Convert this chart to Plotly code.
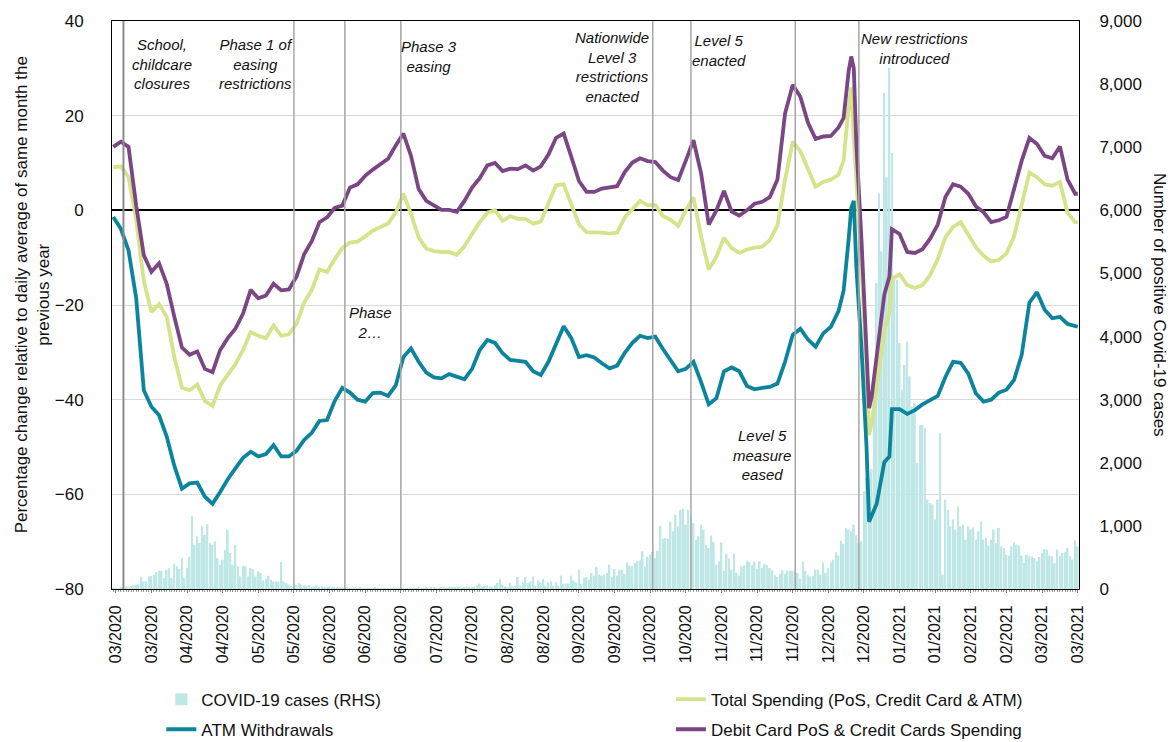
import pandas as pd
import plotly.graph_objects as go

# ---------------------------------------------------------------------------
# Data
# ---------------------------------------------------------------------------
start_date = pd.Timestamp("2020-03-08")

# Daily positive Covid-19 cases (right axis), one value per day from 8 March 2020
covid_cases = [
    5, 8, 12, 20, 25, 40, 30, 45, 60, 70, 75,
    190, 120, 120, 200, 205, 225, 265, 295, 290, 175,
    300, 330, 175, 400, 360, 317, 490, 175, 333, 517,
    1160, 700, 835, 730, 993, 860, 1030, 730, 700, 755,
    490, 385, 465, 620, 940, 570, 385, 700, 360, 200,
    370, 360, 200, 333, 317, 200, 280, 253, 137, 158,
    211, 148, 120, 120, 120, 428, 120, 95, 70,
    50,
    40, 65, 95, 70, 55, 45, 60, 35, 40, 55, 30, 45, 25, 35, 40, 25, 20, 30, 20,
    20, 15, 18, 12, 15, 20, 10, 18, 12, 8, 14, 10, 12, 20, 15, 8, 10, 14, 8, 10,
    12, 9, 15, 11, 14,
    10, 12, 15, 8, 12, 16, 10, 11, 16, 12, 18, 20, 10, 12, 20, 25, 15, 20, 25, 20,
    30, 25, 15, 35, 40, 25, 20, 30, 60, 85, 40,
    45, 55, 40, 35, 60, 95,
    160, 70, 42, 32, 95, 42, 53, 190, 53, 105, 185, 95, 120, 200, 53, 132, 105, 160,
    53, 105, 120, 53, 105, 53,
    211, 85, 85, 85, 211, 132, 105, 306, 85, 174,
    190, 148, 253, 211, 348, 227, 211, 227, 253, 385,
    185, 317, 211, 306, 306, 238, 422, 370, 360, 412,
    438, 454, 597, 360, 507,
    540,
    591, 491, 607, 1003, 797, 808, 797, 1067, 913, 1177, 993, 1256, 1272, 1019, 1256,
    1150,
    1045, 781, 834, 1019, 940, 702, 649, 845, 744, 385,
    438, 739, 290, 560, 486, 306, 560, 253, 211, 360,
    375, 449, 428, 375, 438, 322, 438, 333, 401, 375,
    333, 296, 227, 190, 243, 296, 243, 290, 290, 290,
    270,
    253, 164, 438, 290, 227, 200, 211, 306, 306, 227,
    422, 253, 333, 422, 465, 581, 528, 766, 718, 966,
    940, 913, 1019,
    850, 728, 755, 1547, 1765, 1750, 1900, 3300,
    4850, 6270, 5350, 7860, 6520, 8260, 6910, 4950, 4900,
    3900, 3160, 3550, 3920, 3370, 2890, 2945, 2000, 2600, 2600,
    2550, 1415, 1365, 1340, 1100, 1415, 2470, 227, 1415, 1257,
    993, 1100, 940, 1310, 993, 1019, 781, 993, 940, 977,
    781, 913, 1072, 781, 808, 687, 781, 940, 728, 966,
    676, 650, 544, 528, 676, 740, 702, 690, 528, 412,
    544, 517, 517, 491, 438, 507, 570, 634, 623, 528,
    517, 412, 623, 528, 570, 581, 650, 517, 465, 771, 676,
]

# Spending series (left axis), days counted from 8 March 2020
line_day = [
    0, 3, 6, 9, 12, 15, 18, 21, 24, 27, 30, 33, 36, 39, 42, 45, 48, 51, 54, 57,
    60, 63, 66, 69, 72, 75, 78, 81, 84, 87, 90, 93, 96, 99, 102, 105, 108, 111,
    114, 117, 120, 123, 126, 129, 132, 135, 138, 141, 144, 147, 150, 153, 156,
    159, 162, 165, 168, 171, 174, 177, 180, 183, 186, 189, 192, 195, 198, 201,
    204, 207, 210, 213, 216, 219, 222, 225, 228, 231, 234, 237, 240, 243, 246,
    249, 252, 255, 258, 261, 264, 267, 270, 273, 276, 279, 282, 285, 287, 289,
    290, 291, 292, 294, 296, 297, 298, 300, 303, 305, 306, 309, 312, 315, 318,
    321, 324, 327, 330, 333, 336, 339, 342, 345, 348, 351, 354, 357, 360, 363,
    366, 369, 372, 375, 378, 379,
]

total_spending = [
    9.1, 9.3, 7.0, -2.0, -15.0, -21.5, -19.8, -22.5, -31.0, -37.5, -38.0, -36.8,
    -40.3, -41.3, -37.0, -34.8, -32.5, -29.5, -25.7, -26.5, -27.0, -24.3, -26.5,
    -26.2, -24.0, -19.5, -16.8, -12.5, -13.0, -10.3, -8.0, -6.8, -6.6, -5.5, -4.3,
    -3.5, -2.8, -0.5, 3.5, -0.8, -5.7, -8.1, -8.6, -8.8, -8.8, -9.4, -7.6, -5.0,
    -2.5, -0.5, 0.0, -2.2, -1.2, -1.8, -1.8, -2.8, -2.4, 1.5, 5.3, 5.5, 1.5, -3.0,
    -4.6, -4.6, -4.7, -4.9, -4.7, -1.5, 0.2, 2.0, 1.1, 1.1, -1.2, -2.0, -3.3, 0.0,
    2.7, -5.5, -12.5, -9.8, -5.8, -8.0, -9.0, -8.3, -7.9, -7.7, -6.3, -3.2, 6.5,
    14.5, 12.5, 8.5, 5.0, 6.0, 6.5, 7.5, 10.5, 22.0, 26.0, 15.0, 6.0, -11.0,
    -33.8, -47.5, -45.0, -37.3, -25.5, -21.5, -14.5, -13.5, -15.8, -16.4, -15.8,
    -13.7, -10.3, -5.7, -3.5, -2.5, -5.3, -7.8, -9.6, -10.8, -10.5, -9.1, -5.5,
    1.5, 8.0, 7.0, 5.5, 5.2, 6.0, -0.5, -2.5, -2.5,
]

atm_withdrawals = [
    -1.4, -3.9, -8.5, -18.5, -38.0, -41.5, -43.3, -47.8, -54.0, -58.8, -57.7,
    -57.5, -60.5, -62.0, -59.5, -56.8, -54.5, -52.3, -51.0, -52.0, -51.5, -49.6,
    -52.0, -52.0, -50.8, -48.5, -47.0, -44.5, -44.3, -40.3, -37.5, -38.5, -40.0,
    -40.4, -38.6, -38.5, -39.2, -37.0, -31.0, -29.2, -32.0, -34.3, -35.3, -35.5,
    -34.6, -35.2, -35.7, -33.5, -29.5, -27.4, -28.0, -30.2, -31.6, -31.8, -32.0,
    -34.0, -34.8, -32.0, -28.3, -24.5, -27.0, -31.0, -30.6, -31.1, -32.3, -33.4,
    -32.8, -30.1, -28.0, -26.5, -27.0, -26.7, -29.3, -31.8, -34.0, -33.5, -32.0,
    -36.3, -41.0, -39.7, -34.0, -33.2, -34.0, -37.1, -37.8, -37.5, -37.3, -36.6,
    -32.0, -26.3, -25.0, -27.3, -28.8, -26.0, -24.6, -21.3, -17.0, -6.0, 0.5,
    2.0, -12.0, -28.8, -49.9, -65.8, -64.5, -62.0, -53.2, -52.0, -42.0, -42.0,
    -43.0, -42.2, -41.0, -40.2, -39.2, -35.2, -32.0, -32.2, -34.5, -38.7, -40.4,
    -40.0, -38.5, -37.9, -35.8, -30.5, -19.5, -17.3, -21.0, -22.8, -22.5, -24.0,
    -24.4, -24.6,
]

debit_credit_spending = [
    13.4, 14.5, 13.4, 1.0, -9.5, -13.0, -11.2, -15.5, -22.5, -29.0, -30.5, -29.8,
    -33.5, -34.2, -29.5, -27.0, -25.0, -21.8, -16.8, -18.6, -18.0, -15.5, -16.9,
    -16.7, -14.0, -9.3, -6.5, -2.5, -1.5, 0.5, 1.0, 4.8, 5.5, 7.3, 8.6, 9.8, 10.9,
    13.7, 16.2, 11.5, 4.5, 2.0, 1.0, 0.1, 0.1, -0.3, 2.0, 4.8, 6.8, 9.5, 10.0,
    8.3, 8.8, 8.7, 9.5, 8.4, 9.3, 11.8, 15.3, 16.2, 11.3, 6.2, 3.9, 3.9, 4.6,
    4.9, 5.1, 8.1, 10.1, 11.0, 10.4, 10.2, 8.4, 7.0, 6.4, 10.5, 14.8, 7.8, -3.0,
    0.0, 4.1, -0.3, -1.1, 0.0, 1.4, 1.8, 2.8, 6.5, 20.5, 26.5, 24.0, 18.5, 15.1,
    15.6, 15.7, 17.5, 19.5, 29.5, 32.5, 30.0, 14.0, -6.0, -28.0, -41.8, -39.5,
    -31.0, -17.8, -14.0, -4.0, -5.0, -8.8, -9.0, -8.2, -6.0, -3.0, 2.8, 5.5, 5.0,
    3.5, 0.8, -0.4, -2.5, -2.1, -1.4, 4.2, 10.5, 15.3, 14.0, 11.5, 11.0, 13.5,
    6.5, 3.5, 3.5,
]

# Policy events marked with vertical rules
event_dates = ["2020-03-12", "2020-05-18", "2020-06-07", "2020-06-29",
               "2020-10-06", "2020-10-21", "2020-12-01", "2020-12-26"]

# Event notes: (centre date, top of text on the left axis, text)
event_notes = [
    ("2020-03-27", 37.3, "School,<br>childcare<br>closures"),
    ("2020-05-03", 37.3, "Phase 1 of<br>easing<br>restrictions"),
    ("2020-07-10", 36.9, "Phase 3<br>easing"),
    ("2020-09-20", 38.8, "Nationwide<br>Level 3<br>restrictions<br>enacted"),
    ("2020-11-01", 38.2, "Level 5<br>enacted"),
    ("2021-01-17", 38.6, "New restrictions<br>introduced"),
    ("2020-06-17", -19.4, "Phase<br>2\u2026"),
    ("2020-11-18", -45.4, "Level 5<br>measure<br>eased"),
]

case_dates = pd.date_range(start_date, periods=len(covid_cases), freq="D")
line_dates = start_date + pd.to_timedelta(line_day, unit="D")
tick_dates = pd.date_range("2020-03-09", "2021-03-22", freq="14D")

# ---------------------------------------------------------------------------
# Styling
# ---------------------------------------------------------------------------
FONT = "Liberation Sans, Arial, sans-serif"
INK = "#111111"
C_CASES = "#bfe7e5"
C_TOTAL = "#d6e38b"
C_ATM = "#0b849c"
C_DEBIT = "#7a4684"

fig = go.Figure()

fig.add_trace(go.Bar(
    x=case_dates, y=covid_cases, name="COVID-19 cases (RHS)",
    marker=dict(color=C_CASES, line=dict(width=0)),
    yaxis="y", legend="legend", legendgroup="a",
))
fig.add_trace(go.Scatter(
    x=line_dates, y=total_spending, mode="lines",
    name="Total Spending (PoS, Credit Card & ATM)",
    line=dict(color=C_TOTAL, width=3.8), yaxis="y2",
    legend="legend2", legendgroup="c",
))
fig.add_trace(go.Scatter(
    x=line_dates, y=atm_withdrawals, mode="lines", name="ATM Withdrawals",
    line=dict(color=C_ATM, width=3.8), yaxis="y2",
    legend="legend", legendgroup="b",
))
fig.add_trace(go.Scatter(
    x=line_dates, y=debit_credit_spending, mode="lines",
    name="Debit Card PoS & Credit Cards Spending",
    line=dict(color=C_DEBIT, width=3.8), yaxis="y2",
    legend="legend2", legendgroup="d",
))

shapes = []
for i, d in enumerate(event_dates):
    shapes.append(dict(
        type="line", xref="x", yref="paper", x0=d, x1=d, y0=0, y1=1,
        line=dict(color="#8c8c8c" if i == 0 else "#a6a6a6", width=2 if i == 0 else 1.5),
        layer="above",
    ))

annotations = []
for d, top, text in event_notes:
    annotations.append(dict(
        x=d, y=top, xref="x", yref="y2", text=text, showarrow=False,
        xanchor="center", yanchor="top", align="center",
        font=dict(family=FONT, size=15, color=INK, style="italic"),
    ))

annotations.append(dict(
    x=-0.0827, y=0.517, xref="paper", yref="paper", textangle=-90,
    text="Percentage change relative to daily average of same month the<br>previous year",
    showarrow=False, xanchor="center", yanchor="middle", align="center",
    font=dict(family=FONT, size=17, color=INK),
))
annotations.append(dict(
    x=1.0838, y=0.50, xref="paper", yref="paper", textangle=90,
    text="Number of positive Covid-19 cases",
    showarrow=False, xanchor="center", yanchor="middle",
    font=dict(family=FONT, size=17, color=INK),
))

legend_style = dict(
    orientation="v", xanchor="left", yanchor="top", tracegroupgap=5,
    font=dict(family=FONT, size=17, color=INK), bgcolor="rgba(0,0,0,0)",
    itemwidth=30,
)

fig.update_layout(
    width=1172, height=742,
    margin=dict(l=112, r=93, t=21, b=153, autoexpand=False),
    paper_bgcolor="white", plot_bgcolor="white",
    font=dict(family=FONT, color=INK),
    bargap=0.3,
    showlegend=True,
    legend=dict(x=0.051, y=-0.163, **legend_style),
    legend2=dict(x=0.578, y=-0.163, **legend_style),
    xaxis=dict(
        type="date",
        range=["2020-03-07 12:00", "2021-03-22 12:00"],
        tickvals=tick_dates, tickformat="%m/%Y", tickangle=-90,
        tickfont=dict(family=FONT, size=16, color=INK),
        ticks="outside", ticklen=3, tickcolor="#808080",
        minor=dict(ticks="outside", ticklen=2, tickcolor="#9a9a9a", dtick=86400000),
        showgrid=False, showline=True, linecolor="#000000", linewidth=1, mirror=True,
        ticklabelstandoff=6, automargin=False,
    ),
    yaxis=dict(
        side="right", range=[0, 9000], dtick=1000, tickformat=",d",
        tickfont=dict(family=FONT, size=17, color=INK),
        showgrid=False, zeroline=False,
        showline=True, linecolor="#000000", linewidth=1,
        ticks="", ticklabelstandoff=16, automargin=False,
    ),
    yaxis2=dict(
        overlaying="y", side="left", range=[-80, 40], dtick=20,
        tickfont=dict(family=FONT, size=17, color=INK),
        showgrid=True, gridcolor="#d9d9d9", gridwidth=1,
        zeroline=True, zerolinecolor="#000000", zerolinewidth=2,
        showline=True, linecolor="#000000", linewidth=1,
        ticks="", ticklabelstandoff=24, automargin=False,
    ),
    shapes=shapes,
    annotations=annotations,
)

fig.write_html("out.html")
